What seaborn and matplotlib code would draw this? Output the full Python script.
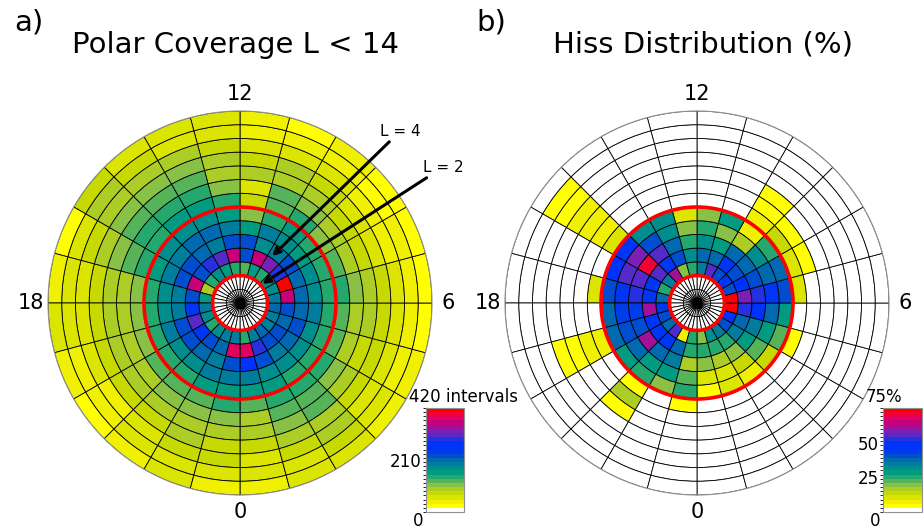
import numpy as np
import matplotlib
matplotlib.use("Agg")
import matplotlib.pyplot as plt
from matplotlib.colors import ListedColormap, BoundaryNorm
from matplotlib.cm import ScalarMappable
import seaborn as sns

sns.set_style("white")
plt.rcParams["font.family"] = ["DejaVu Sans"]
plt.rcParams["text.color"] = "black"
plt.rcParams["xtick.color"] = "black"
plt.rcParams["ytick.color"] = "black"

# ---------------------------------------------------------------------------
# Data: one list per L shell (lower edge), 24 MLT sectors (0..23 h)
# ---------------------------------------------------------------------------
MLT_LABELS = ["0", "6", "12", "18"]
L_LOW = list(range(2, 14))

# Coverage (number of intervals)
cov_L02 = [150, 190, 210, 200, 190, 210, 200, 180, 170, 150, 160, 130, 140, 160, 180, 140, 90, 160, 200, 180, 150, 170, 200, 190]
cov_L03 = [380, 300, 220, 220, 215, 230, 360, 405, 300, 330, 360, 220, 360, 310, 290, 230, 360, 230, 285, 310, 270, 230, 215, 370]
cov_L04 = [260, 220, 200, 210, 220, 215, 210, 215, 220, 195, 175, 225, 225, 200, 215, 220, 225, 200, 200, 225, 230, 215, 200, 225]
cov_L05 = [200, 180, 175, 180, 170, 185, 180, 170, 160, 175, 190, 160, 185, 215, 210, 190, 200, 180, 170, 185, 180, 175, 190, 195]
cov_L06 = [165, 160, 150, 150, 145, 140, 150, 145, 140, 160, 150, 105, 160, 180, 180, 175, 165, 150, 140, 150, 150, 145, 160, 165]
cov_L07 = [130, 140, 145, 135, 120, 125, 135, 125, 115, 140, 130, 70, 140, 155, 155, 150, 135, 115, 110, 115, 120, 125, 130, 135]
cov_L08 = [100, 120, 130, 110, 95, 100, 110, 100, 90, 115, 120, 65, 110, 135, 140, 135, 120, 95, 95, 100, 100, 110, 115, 110]
cov_L09 = [90, 115, 120, 95, 80, 85, 90, 80, 75, 95, 100, 90, 100, 125, 130, 125, 110, 85, 85, 85, 90, 95, 100, 95]
cov_L10 = [75, 100, 100, 80, 70, 70, 75, 65, 60, 80, 85, 70, 90, 110, 115, 110, 100, 75, 70, 70, 70, 80, 85, 80]
cov_L11 = [65, 80, 85, 65, 55, 55, 55, 50, 45, 65, 65, 60, 75, 90, 95, 100, 80, 65, 60, 55, 50, 65, 70, 70]
cov_L12 = [55, 65, 70, 55, 45, 40, 40, 35, 30, 50, 45, 50, 60, 65, 75, 85, 55, 55, 55, 45, 35, 55, 60, 60]
cov_L13 = [50, 55, 55, 45, 40, 30, 30, 30, 25, 35, 30, 45, 55, 55, 60, 75, 30, 50, 55, 45, 25, 50, 55, 50]

# Hiss occurrence (%)
hiss_L02 = [20, 30, 35, 40, 45, 72, 72, 40, 50, 40, 55, 35, 25, 20, 62, 35, 25, 38, 50, 40, 38, 55, 8, 25]
hiss_L03 = [25, 25, 25, 35, 38, 52, 58, 45, 40, 48, 38, 38, 30, 40, 50, 55, 50, 48, 60, 45, 50, 48, 38, 25]
hiss_L04 = [18, 15, 20, 28, 35, 45, 52, 40, 38, 38, 28, 30, 25, 38, 55, 70, 55, 52, 42, 40, 62, 38, 35, 16]
hiss_L05 = [10, 10, 14, 22, 28, 38, 50, 38, 30, 15, 20, 25, 20, 32, 40, 58, 55, 48, 42, 40, 36, 28, 28, 22]
hiss_L06 = [5, 9, 8, 14, 22, 28, 40, 36, 25, 8, 28, 20, 10, 30, 32, 48, 45, 40, 38, 36, 28, 25, 20, 25]
hiss_L07 = [0, 0, 0, 0, 5, 0, 10, 9, 14, 8, 0, 0, 0, 0, 0, 10, 0, 10, 0, 8, 0, 5, 0, 3]
hiss_L08 = [0, 0, 0, 0, 0, 0, 0, 4, 4, 5, 0, 0, 0, 0, 0, 8, 0, 0, 0, 7, 0, 15, 0, 0]
hiss_L09 = [0, 0, 0, 0, 0, 0, 0, 0, 0, 4, 0, 0, 0, 0, 0, 7, 0, 0, 0, 4, 0, 4, 0, 0]
hiss_L10 = [0, 0, 0, 0, 0, 0, 0, 0, 0, 0, 0, 0, 0, 0, 0, 6, 0, 0, 0, 3, 0, 0, 0, 0]
hiss_L11 = [0, 0, 0, 0, 0, 0, 0, 0, 0, 0, 0, 0, 0, 0, 0, 5, 0, 0, 0, 0, 0, 0, 0, 0]
hiss_L12 = [0, 0, 0, 0, 0, 0, 0, 0, 0, 0, 0, 0, 0, 0, 0, 4, 0, 0, 0, 0, 0, 0, 0, 0]
hiss_L13 = [0, 0, 0, 0, 0, 0, 0, 0, 0, 0, 0, 0, 0, 0, 0, 0, 0, 0, 0, 0, 0, 0, 0, 0]

coverage = np.array([cov_L02, cov_L03, cov_L04, cov_L05, cov_L06, cov_L07,
                     cov_L08, cov_L09, cov_L10, cov_L11, cov_L12, cov_L13])
hiss = np.array([hiss_L02, hiss_L03, hiss_L04, hiss_L05, hiss_L06, hiss_L07,
                 hiss_L08, hiss_L09, hiss_L10, hiss_L11, hiss_L12, hiss_L13])

# ---------------------------------------------------------------------------
# Stepped colour scale: white for empty bins, then yellow -> green -> blue -> red
# ---------------------------------------------------------------------------
anchors = ["#ffff00", "#e6ea00", "#c4d800", "#9cc640", "#4cb05c", "#00a07c",
           "#008a90", "#0070a8", "#0046d8", "#0032ff", "#0036f0", "#4e2ccc",
           "#8a1cae", "#c4007e", "#ee0050", "#ff0000"]
steps = sns.blend_palette(anchors, n_colors=24)
cmap = ListedColormap(["#ffffff"] + list(steps))
NBINS = 25

width = 2 * np.pi / 24
theta_c = (np.arange(24) + 0.5) * width


def polar_panel(ax, data, vmax):
    norm = BoundaryNorm(np.linspace(0, vmax, NBINS + 1), NBINS)
    ax.set_theta_zero_location("S")
    ax.set_theta_direction(1)
    for i, lo in enumerate(L_LOW):
        ax.bar(theta_c, 1.0, width=width, bottom=lo,
               color=cmap(norm(data[i])), edgecolor="black", linewidth=0.6,
               align="center", zorder=2)
    # empty core inside L = 2
    th36 = np.arange(36) * 2 * np.pi / 36
    for lo in (0, 1):
        ax.bar(th36, 1.0, width=2 * np.pi / 36, bottom=lo, color="white",
               edgecolor="black", linewidth=0.6, align="edge", zorder=2)
    ax.plot([0], [0], marker="s", ms=5.5, color="black", zorder=3)
    ring = np.linspace(0, 2 * np.pi, 400)
    for rr in (2, 7):
        ax.plot(ring, np.full_like(ring, rr), color="#ff0000", lw=2.6, zorder=4)
    ax.set_ylim(0, 14)
    ax.set_yticks([])
    ax.set_xticks(np.deg2rad([0, 90, 180, 270]))
    ax.set_xticklabels(MLT_LABELS, fontsize=15)
    ax.tick_params(axis="x", pad=1.5)
    ax.grid(True, color="#808080", lw=0.8)
    ax.spines["polar"].set_color("#909090")
    ax.spines["polar"].set_linewidth(0.8)
    return norm


def colorbar(fig, rect, norm, top_label, mid_ticks):
    cax = fig.add_axes(rect)
    cb = fig.colorbar(ScalarMappable(norm=norm, cmap=cmap), cax=cax,
                      orientation="vertical")
    cb.outline.set_edgecolor("#909090")
    cb.outline.set_linewidth(0.8)
    cax.yaxis.set_ticks_position("left")
    cax.set_yticks(mid_ticks)
    cax.set_yticklabels([str(t) for t in mid_ticks], fontsize=12)
    cax.tick_params(axis="y", length=0, pad=3)
    cax.text(-0.45, 1.02, top_label, transform=cax.transAxes, fontsize=12,
             ha="left", va="bottom")
    cax.text(-0.2, -0.085, "0", transform=cax.transAxes, fontsize=12,
             ha="center", va="center")
    return cb


fig = plt.figure(figsize=(9.24, 5.29), dpi=100)

ax1 = fig.add_axes([48 / 924, 1 - 495 / 529, 384 / 924, 384 / 529], projection="polar")
norm1 = polar_panel(ax1, coverage, 420)
ax2 = fig.add_axes([505 / 924, 1 - 495 / 529, 384 / 924, 384 / 529], projection="polar")
norm2 = polar_panel(ax2, hiss, 75)

colorbar(fig, [426 / 924, 1 - 512 / 529, 38 / 924, 104 / 529], norm1,
         "420 intervals", [210])
colorbar(fig, [883 / 924, 1 - 512 / 529, 39 / 924, 104 / 529], norm2,
         "75%", [25, 50])

# L-shell pointers on the coverage panel
ax1.annotate("L = 4", xy=(9.7 * width, 4.15), xycoords="data",
             xytext=(380 / 924, 1 - 131 / 529), textcoords="figure fraction",
             fontsize=11, ha="left", va="center",
             arrowprops=dict(arrowstyle="->", color="black", lw=2.2,
                             shrinkA=0, shrinkB=0), zorder=6)
ax1.annotate("L = 2", xy=(8.7 * width, 2.15), xycoords="data",
             xytext=(423 / 924, 1 - 167 / 529), textcoords="figure fraction",
             fontsize=11, ha="left", va="center",
             arrowprops=dict(arrowstyle="->", color="black", lw=2.2,
                             shrinkA=0, shrinkB=0), zorder=6)

fig.text(236 / 924, 1 - 45 / 529, "Polar Coverage L < 14", fontsize=21,
         ha="center", va="center")
fig.text(703 / 924, 1 - 45 / 529, "Hiss Distribution (%)", fontsize=21,
         ha="center", va="center")
fig.text(14 / 924, 1 - 23 / 529, "a)", fontsize=21, ha="left", va="center")
fig.text(476 / 924, 1 - 23 / 529, "b)", fontsize=21, ha="left", va="center")

fig.savefig("out.png", dpi=100)
